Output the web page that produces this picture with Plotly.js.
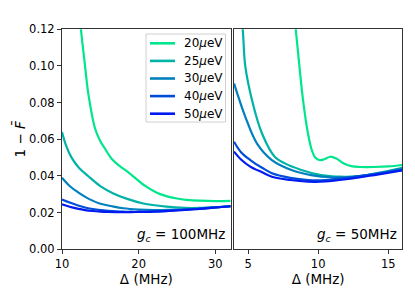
<!DOCTYPE html>
<html><head><meta charset="utf-8">
<script src="https://cdn.plot.ly/plotly-3.0.1.min.js"></script>
<style>html,body{margin:0;padding:0;background:#fff}#g{width:415px;height:297px}</style>
</head><body><div id="g"></div>
<script>
const labels = ["20<i>μ</i>eV","25<i>μ</i>eV","30<i>μ</i>eV","40<i>μ</i>eV","50<i>μ</i>eV"];
const colors = ["#00e68c","#00b3a6","#0080bf","#004dd9","#001af2"];

// left panel, g_c = 100 MHz
const L20x = [11.8, 12.47, 12.95, 13.47, 14.33, 15.0, 15.63, 16.5, 17.5, 18.66, 20.8, 22.3, 23.6, 25, 26.2, 28, 30, 32];
const L20y = [0.15, 0.12, 0.102, 0.0838, 0.0656, 0.059, 0.0547, 0.0493, 0.0455, 0.042, 0.0347, 0.031, 0.0290, 0.0277, 0.0270, 0.0265, 0.0263, 0.0264];
const L25x = [10, 10.5, 11.25, 12.2, 13.4, 15, 16.7, 18.5, 20.6, 23.6, 26, 28, 30, 32];
const L25y = [0.064, 0.057, 0.050, 0.0445, 0.040, 0.0345, 0.0305, 0.0275, 0.025, 0.0233, 0.0226, 0.0226, 0.0230, 0.0236];
const L30x = [10, 11, 12.3, 13.5, 14.9, 16.5, 18, 20, 22, 24, 26, 28, 30, 32];
const L30y = [0.039, 0.0345, 0.0305, 0.0275, 0.025, 0.0235, 0.0224, 0.0217, 0.0214, 0.0215, 0.0218, 0.0223, 0.0229, 0.0235];
const L40x = [10, 11, 12, 13, 14, 15, 16, 17, 18, 19, 20, 22, 24, 26, 28, 30, 32];
const L40y = [0.0272, 0.0255, 0.0240, 0.0228, 0.0220, 0.0214, 0.0210, 0.0207, 0.0205, 0.0205, 0.0205, 0.0207, 0.0210, 0.0215, 0.0221, 0.0228, 0.0235];
const L50x = [10, 11, 12, 13, 14, 15, 16, 17, 18, 19, 20, 22, 24, 26, 28, 30, 32];
const L50y = [0.0245, 0.0232, 0.0222, 0.0214, 0.0209, 0.0206, 0.0204, 0.0203, 0.0203, 0.0203, 0.0204, 0.0206, 0.0210, 0.0215, 0.0221, 0.0228, 0.0235];

// right panel, g_c = 50 MHz
const R20x = [8.1, 8.4, 8.92, 9.27, 9.55, 9.8, 10.1, 10.4, 10.87, 11.3, 11.8, 12.44, 13, 14, 15, 16];
const R20y = [0.14, 0.12, 0.0815, 0.0633, 0.054, 0.0500, 0.0487, 0.0490, 0.0505, 0.0495, 0.047, 0.0452, 0.0449, 0.0449, 0.0452, 0.046];
const R25x = [4.3, 4.62, 4.8, 5.28, 5.99, 6.9, 7.6, 8.8, 10.2, 11.6, 13, 14.5, 16];
const R25y = [0.14, 0.12, 0.10, 0.0815, 0.0633, 0.0505, 0.047, 0.0433, 0.0405, 0.0396, 0.040, 0.042, 0.0445];
const R30x = [4.0, 4.8, 5.63, 6.7, 8.1, 9.5, 11, 12.5, 14, 16];
const R30y = [0.0905, 0.0724, 0.0578, 0.0487, 0.0433, 0.0405, 0.0393, 0.0395, 0.041, 0.0440];
const R40x = [4.0, 4.5, 5.16, 6, 6.7, 8, 9.3, 10.5, 12, 14, 16];
const R40y = [0.0587, 0.053, 0.0487, 0.0445, 0.0415, 0.0390, 0.0378, 0.0378, 0.0390, 0.041, 0.0433];
const R50x = [4.0, 4.5, 5.16, 6, 6.7, 8, 9.3, 10.5, 12, 14, 16];
const R50y = [0.0533, 0.049, 0.0451, 0.0420, 0.0396, 0.0378, 0.0369, 0.0370, 0.0382, 0.0405, 0.043];

const Lx=[L20x,L25x,L30x,L40x,L50x], Ly=[L20y,L25y,L30y,L40y,L50y];
const Rx=[R20x,R25x,R30x,R40x,R50x], Ry=[R20y,R25y,R30y,R40y,R50y];

const W=415, H=297;
const px = v => v/W, py = v => 1 - v/H;

const traces=[];
for(let i=0;i<5;i++){
  traces.push({x:Lx[i],y:Ly[i],mode:'lines',name:labels[i],xaxis:'x',yaxis:'y',
    line:{color:colors[i],width:2.2,shape:'spline',smoothing:1},showlegend:false,hoverinfo:'skip'});
}
for(let i=0;i<5;i++){
  traces.push({x:Rx[i],y:Ry[i],mode:'lines',name:labels[i],xaxis:'x2',yaxis:'y2',
    line:{color:colors[i],width:2.2,shape:'spline',smoothing:1},showlegend:false,hoverinfo:'skip'});
}
const F="DejaVu Sans, sans-serif";

// legend drawn as a framed box of line samples + text labels
const shapes=[{type:'rect',xref:'paper',yref:'paper',x0:px(146),x1:px(225.5),y0:py(34),y1:py(122),
  line:{color:'#d0d0d0',width:1},fillcolor:'rgba(255,255,255,0.85)',layer:'above'}];
const annotations=[];
const rowY=[43.3,60.9,78.5,96.1,113.7];
for(let i=0;i<5;i++){
  shapes.push({type:'line',xref:'paper',yref:'paper',x0:px(150),x1:px(175),y0:py(rowY[i]),y1:py(rowY[i]),
    line:{color:colors[i],width:2.6},layer:'above'});
  annotations.push({xref:'paper',yref:'paper',x:px(182),y:py(rowY[i]),xanchor:'left',yanchor:'middle',showarrow:false,
    text:labels[i],font:{family:F,size:12,color:'#000'}});
}
annotations.push(
  {xref:'paper',yref:'paper',x:0.548,y:0.172,xanchor:'right',yanchor:'bottom',showarrow:false,
   text:'<i>g</i><sub><i>c</i></sub> = 100MHz',font:{family:F,size:13.5,color:'#000'}},
  {xref:'paper',yref:'paper',x:0.962,y:0.172,xanchor:'right',yanchor:'bottom',showarrow:false,
   text:'<i>g</i><sub><i>c</i></sub> = 50MHz',font:{family:F,size:13.5,color:'#000'}}
);

const ax = {showline:true,mirror:true,linecolor:'#333',linewidth:1,ticks:'outside',ticklen:4,tickcolor:'#333',
  showgrid:false,zeroline:false,tickfont:{family:F,size:11.5,color:'#000'}};
const layout={
  width:W,height:H,margin:{l:0,r:0,t:0,b:0},paper_bgcolor:'#fff',plot_bgcolor:'#fff',
  font:{family:F,color:'#000'},showlegend:false,
  xaxis:Object.assign({},ax,{domain:[0.1494,0.5559],range:[10,32],tickvals:[10,20,30],anchor:'y',
     title:{text:'Δ (MHz)',font:{family:F,size:13.5},standoff:1}}),
  yaxis:Object.assign({},ax,{domain:[0.1606,0.9013],range:[0,0.12],tickvals:[0,0.02,0.04,0.06,0.08,0.10,0.12],
     ticktext:['0.00','0.02','0.04','0.06','0.08','0.10','0.12'],anchor:'x',
     title:{text:'1 − <i>F̄</i>',font:{family:F,size:13.5},standoff:0}}),
  xaxis2:Object.assign({},ax,{domain:[0.5639,0.9694],range:[4,16],tickvals:[5,10,15],anchor:'y2',
     title:{text:'Δ (MHz)',font:{family:F,size:13.5},standoff:1}}),
  yaxis2:Object.assign({},ax,{domain:[0.1606,0.9013],range:[0,0.12],anchor:'x2',showticklabels:false,ticks:''}),
  shapes:shapes,
  annotations:annotations
};
Plotly.newPlot('g',traces,layout,{staticPlot:true,displayModeBar:false});
</script></body></html>
